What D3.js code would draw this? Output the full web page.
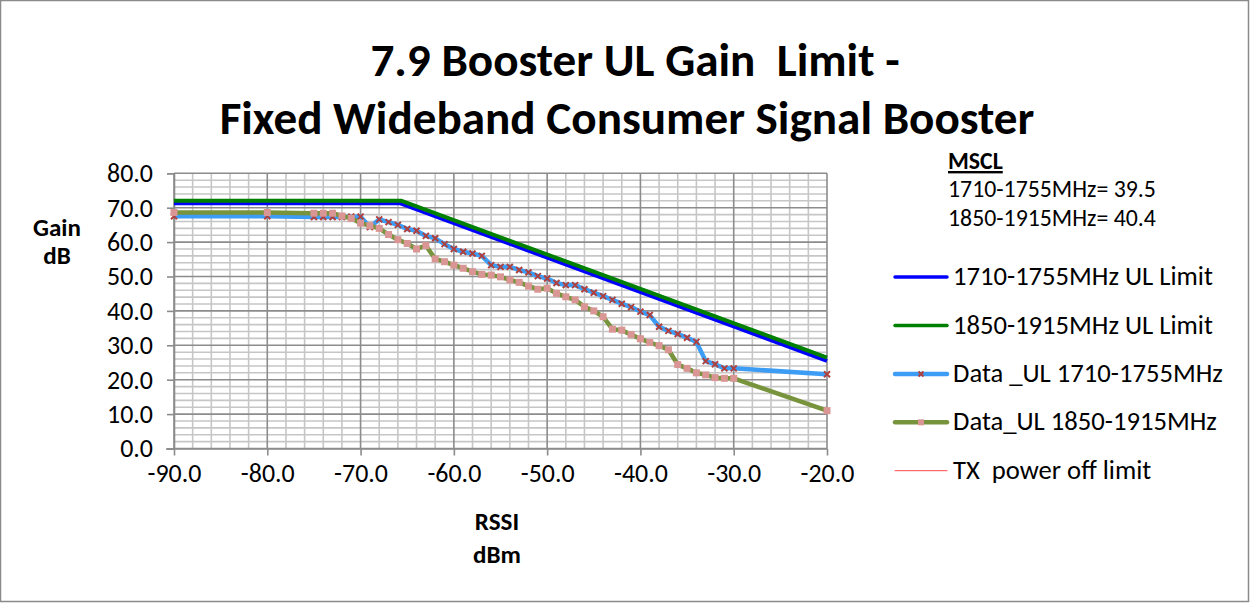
<!DOCTYPE html>
<html><head><meta charset="utf-8">
<script src="https://cdn.jsdelivr.net/npm/d3@7"></script>
<style>body{margin:0;background:#fff}svg{display:block}</style>
</head><body><svg id="c" width="1250" height="603"></svg>
<script>
// ---- data ----
const titleLines = ["7.9 Booster UL Gain  Limit -", "Fixed Wideband Consumer Signal Booster"];
const xTicks = [-90, -80, -70, -60, -50, -40, -30, -20];
const yTicks = [0, 10, 20, 30, 40, 50, 60, 70, 80];
const rssi = [-90, -80, -75, -74, -73, -72, -71, -70, -69, -68, -67, -66, -65, -64, -63, -62, -61, -60,
  -59, -58, -57, -56, -55, -54, -53, -52, -51, -50, -49, -48, -47, -46, -45, -44, -43, -42, -41, -40,
  -39, -38, -37, -36, -35, -34, -33, -32, -31, -30, -20];
const gain1710 = [67.5, 67.5, 67.3, 67.3, 67.3, 67.3, 67.4, 67.4, 64.4, 66.6, 65.8, 65.0, 63.8, 63.3, 61.8, 61.1, 59.4, 58.0,
  57.2, 56.7, 56.0, 53.3, 52.8, 52.8, 51.9, 51.2, 50.1, 49.4, 48.1, 47.5, 47.5, 46.3, 45.3, 44.3, 43.2, 42.1, 41.1, 39.8,
  38.8, 35.4, 34.2, 33.3, 32.2, 31.0, 25.4, 24.5, 23.3, 23.3, 21.6];
const gain1850 = [68.6, 68.6, 68.4, 68.4, 68.4, 67.6, 66.9, 65.5, 64.8, 64.0, 62.2, 60.7, 59.6, 58.0, 59.0, 55.1, 54.3, 53.3,
  52.4, 51.4, 50.6, 50.4, 49.9, 49.0, 48.3, 47.2, 46.3, 46.6, 45.1, 44.1, 43.2, 41.2, 40.0, 38.3, 34.7, 34.4, 33.1, 31.9,
  30.8, 29.9, 28.7, 24.4, 23.3, 22.0, 21.4, 20.6, 20.4, 20.4, 11.0];
const limit1710X = [-90, -65.8, -20];
const limit1710Y = [71.3, 71.3, 25.5];
const limit1850X = [-90, -65.6, -20];
const limit1850Y = [72.0, 72.0, 26.4];
const msclLines = ["MSCL", "1710-1755MHz= 39.5", "1850-1915MHz= 40.4"];
const legendNames = ["1710-1755MHz UL Limit", "1850-1915MHz UL Limit", "Data _UL 1710-1755MHz", "Data_UL 1850-1915MHz", "TX  power off limit"];

// ---- setup ----
const FONT = "Carlito, Calibri, Lato, sans-serif";
const svg = d3.select("#c");
svg.append("rect").attr("x", 0.5).attr("y", 0.5).attr("width", 1248).attr("height", 601)
  .attr("fill", "#fff").attr("stroke", "#8a8a8a").attr("stroke-width", 1.5);

function fit(sel, target) {
  const n = sel.node();
  const fs = parseFloat(sel.attr("font-size"));
  const w = n.getComputedTextLength();
  const nf = fs * target / w;
  sel.attr("font-size", nf);
  return nf;
}

const x = d3.scaleLinear().domain([-90, -20]).range([174, 827]);
const y = d3.scaleLinear().domain([0, 80]).range([448.5, 173.3]);

// ---- title ----
const tmp = svg.append("text").attr("font-family", FONT).attr("font-weight", "bold")
  .attr("font-size", 36).text(titleLines[1]);
const tf = fit(tmp, 815);
tmp.remove();
svg.append("text").attr("x", 635).attr("y", 76).attr("text-anchor", "middle")
  .attr("font-family", FONT).attr("font-weight", "bold").attr("font-size", tf).attr("fill", "#000")
  .style("white-space", "pre").text(titleLines[0]);
svg.append("text").attr("x", 627).attr("y", 134).attr("text-anchor", "middle")
  .attr("font-family", FONT).attr("font-weight", "bold").attr("font-size", tf).attr("fill", "#000")
  .text(titleLines[1]);

// ---- grid ----
const minorX = d3.range(-90, -19, 2), minorY = d3.range(0, 81, 2);
const g = svg.append("g");
g.selectAll(".vx").data(minorX.filter(v => v % 10 !== 0)).join("line")
  .attr("x1", d => x(d)).attr("x2", d => x(d)).attr("y1", y(80)).attr("y2", y(0))
  .attr("stroke", "#c6c6c6").attr("stroke-width", 1.6);
g.selectAll(".vy").data(minorY.filter(v => v % 10 !== 0)).join("line")
  .attr("y1", d => y(d)).attr("y2", d => y(d)).attr("x1", x(-90)).attr("x2", x(-20))
  .attr("stroke", "#c6c6c6").attr("stroke-width", 1.6);
g.selectAll(".mx").data(xTicks).join("line")
  .attr("x1", d => x(d)).attr("x2", d => x(d)).attr("y1", y(80)).attr("y2", y(0))
  .attr("stroke", "#8c8c8c").attr("stroke-width", 1.6);
g.selectAll(".my").data(yTicks).join("line")
  .attr("y1", d => y(d)).attr("y2", d => y(d)).attr("x1", x(-90)).attr("x2", x(-20))
  .attr("stroke", "#8c8c8c").attr("stroke-width", 1.6);

// ---- axes ----
const fmt = d => d.toFixed(1);
const xAxis = d3.axisBottom(x).tickValues(xTicks).tickFormat(fmt).tickSize(7).tickPadding(8);
const yAxis = d3.axisLeft(y).tickValues(yTicks).tickFormat(fmt).tickSize(7).tickPadding(14);
const gx = svg.append("g").attr("transform", `translate(0,${y(0)})`).call(xAxis);
const gy = svg.append("g").attr("transform", `translate(${x(-90)},0)`).call(yAxis);
[gx, gy].forEach(a => {
  a.select(".domain").attr("stroke", "#8c8c8c").attr("stroke-width", 1.6);
  a.selectAll(".tick line").attr("stroke", "#8c8c8c").attr("stroke-width", 1.6);
  a.selectAll("text").attr("font-family", FONT).attr("fill", "#000");
});
const probe = gy.selectAll(".tick text").filter(d => d === 80);
probe.attr("font-size", 20);
const tickFs = fit(probe, 46);
gx.selectAll(".tick text").attr("font-size", tickFs).attr("dy", "0.71em");
gy.selectAll(".tick text").attr("font-size", tickFs);
gx.select(".domain").attr("d", `M${x(-90) - 8},0.5H${x(-20)}`);

// axis titles
const gain = svg.append("text").attr("x", 57).attr("y", 236).attr("text-anchor", "middle")
  .attr("font-family", FONT).attr("font-weight", "bold").attr("font-size", 20).text("Gain");
const axf = fit(gain, 48);
svg.append("text").attr("x", 57).attr("y", 264).attr("text-anchor", "middle")
  .attr("font-family", FONT).attr("font-weight", "bold").attr("font-size", axf).text("dB");
svg.append("text").attr("x", 497).attr("y", 530).attr("text-anchor", "middle")
  .attr("font-family", FONT).attr("font-weight", "bold").attr("font-size", axf).text("RSSI");
svg.append("text").attr("x", 497).attr("y", 563).attr("text-anchor", "middle")
  .attr("font-family", FONT).attr("font-weight", "bold").attr("font-size", axf).text("dBm");

// ---- lines ----
const line = d3.line().x(d => x(d[0])).y(d => y(d[1]));
const lim1710 = limit1710X.map((v, i) => [v, limit1710Y[i]]);
const lim1850 = limit1850X.map((v, i) => [v, limit1850Y[i]]);
svg.append("path").attr("d", line(lim1710)).attr("fill", "none").attr("stroke", "#0000ff")
  .attr("stroke-width", 4).attr("stroke-linejoin", "round");
svg.append("path").attr("d", line(lim1850)).attr("fill", "none").attr("stroke", "#008000")
  .attr("stroke-width", 4).attr("stroke-linejoin", "round");

const d1710 = rssi.map((v, i) => [v, gain1710[i]]);
const d1850 = rssi.map((v, i) => [v, gain1850[i]]);
const crossPath = s => `M${-s},${-s}L${s},${s}M${-s},${s}L${s},${-s}`;

svg.append("path").attr("d", line(d1710)).attr("fill", "none").attr("stroke", "#3d9df5")
  .attr("stroke-width", 4.5).attr("stroke-linejoin", "round");
svg.append("g").selectAll("path").data(d1710).join("path")
  .attr("transform", d => `translate(${x(d[0])},${y(d[1])})`)
  .attr("d", crossPath(3)).attr("stroke", "#b0403d").attr("stroke-width", 2).attr("fill", "none");

svg.append("path").attr("d", line(d1850)).attr("fill", "none").attr("stroke", "#77933c")
  .attr("stroke-width", 4.5).attr("stroke-linejoin", "round");
svg.append("g").selectAll("rect").data(d1850).join("rect")
  .attr("x", d => x(d[0]) - 3.5).attr("y", d => y(d[1]) - 3.5).attr("width", 7).attr("height", 7)
  .attr("fill", "#d99694");

// ---- MSCL note ----
const m0 = svg.append("text").attr("x", 948).attr("y", 169).attr("font-family", FONT)
  .attr("font-weight", "bold").attr("font-size", 16).style("text-decoration", "underline").text(msclLines[0]);
const m1 = svg.append("text").attr("x", 948).attr("y", 197).attr("font-family", FONT)
  .attr("font-size", 16).text(msclLines[1]);
const mf = fit(m1, 208);
m0.attr("font-size", mf);
svg.append("text").attr("x", 948).attr("y", 226).attr("font-family", FONT)
  .attr("font-size", mf).text(msclLines[2]);

// ---- legend ----
const legY = [277, 325.5, 374, 422.3, 470.7];
const legStyles = [
  {c: "#0000ff", w: 3.5, m: null},
  {c: "#008000", w: 3.5, m: null},
  {c: "#3d9df5", w: 4.5, m: "x"},
  {c: "#77933c", w: 4.5, m: "sq"},
  {c: "#ff4b4b", w: 1, m: null}
];
const lg = svg.append("g");
let legFs = 20;
legendNames.forEach((name, i) => {
  const s = legStyles[i];
  lg.append("line").attr("x1", 895).attr("x2", 947).attr("y1", legY[i]).attr("y2", legY[i])
    .attr("stroke", s.c).attr("stroke-width", s.w).attr("stroke-linecap", "round");
  if (s.m === "x") lg.append("path").attr("transform", `translate(921,${legY[i]})`).attr("d", crossPath(2.5))
    .attr("stroke", "#b0403d").attr("stroke-width", 2);
  if (s.m === "sq") lg.append("rect").attr("x", 918).attr("y", legY[i] - 3).attr("width", 6).attr("height", 6)
    .attr("fill", "#d99694");
  const t = lg.append("text").attr("x", 953).attr("y", legY[i] + 8).attr("font-family", FONT)
    .attr("font-size", legFs).style("white-space", "pre").text(name);
  if (i === 0) legFs = fit(t, 260);
});
</script></body></html>
